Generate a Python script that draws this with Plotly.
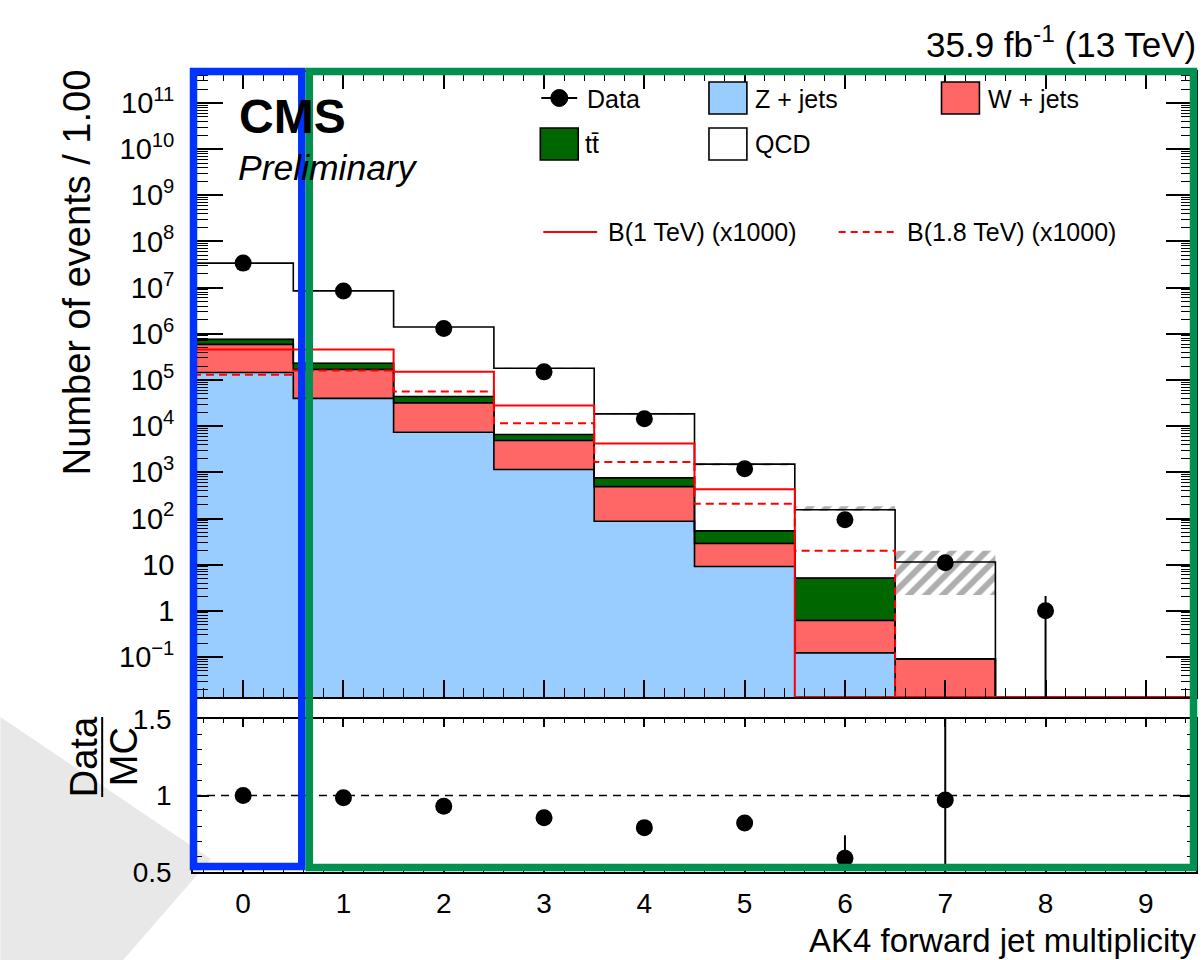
import numpy as np
import plotly.graph_objects as go

# ---------------- data ----------------
bins = [0, 1, 2, 3, 4, 5, 6, 7, 8, 9]
bin_edges = [-0.5, 0.5, 1.5, 2.5, 3.5, 4.5, 5.5, 6.5, 7.5, 8.5, 9.5]
x_tick_labels = ["0", "1", "2", "3", "4", "5", "6", "7", "8", "9"]

z_jets = [1.45e5, 4.0e4, 7.4e3, 1.15e3, 87, 9.1, 0.123, 0, 0, 0]
w_jets = [4.45e5, 1.3e5, 2.46e4, 3.75e3, 403, 19.9, 0.50, 0.091, 0, 0]
ttbar = [1.7e5, 6.0e4, 1.2e4, 1.7e3, 270, 25, 4.5, 0, 0, 0]
qcd = [3.32e7, 8.27e6, 1.36e6, 1.73e5, 1.77e4, 1.45e3, 150, 11.3, 0, 0]

data = [3.4e7, 8.5e6, 1.3e6, 1.5e5, 1.45e4, 1.2e3, 94, 11, 1, None]
data_err_up = [5.8e3, 2.9e3, 1.1e3, 390, 120, 35, 10, 3.4, 1.1, 0]
data_err_dn = [5.8e3, 2.9e3, 1.1e3, 390, 120, 35, 9.7, 3.3, 1.0, 0]

sig_1tev = [4.6e5, 4.6e5, 1.5e5, 2.8e4, 4.2e3, 4.3e2, 0, 0, 0, 0]
sig_18tev = [1.3e5, 1.6e5, 5.6e4, 1.15e4, 1.67e3, 2.1e2, 20, 0, 0, 0]

unc_lo = [None, None, None, 1.76e5, 1.80e4, 1.40e3, 145, 2.2, None, None]
unc_hi = [None, None, None, 1.84e5, 1.90e4, 1.60e3, 185, 20, None, None]

ratio = [1.0, 0.985, 0.93, 0.855, 0.79, 0.82, 0.59, 0.97, None, None]
ratio_err_up = [0.004, 0.004, 0.005, 0.006, 0.01, 0.03, 0.15, 1.0, 0, 0]
ratio_err_dn = [0.004, 0.004, 0.005, 0.006, 0.01, 0.03, 0.40, 1.0, 0, 0]

y_tick_exps = [-1, 0, 1, 2, 3, 4, 5, 6, 7, 8, 9, 10, 11]

# ---------------- geometry / style ----------------
FIG_W, FIG_H = 1203, 960
L, R, T, B = 193, 1198, 72, 872
PW, PH = R - L, B - T
YMIN, YMAX = -1.866, 11.671
BOT = 10 ** YMIN
FONT = "Liberation Sans, Arial, Helvetica, sans-serif"

C_Z = "#99ccff"
C_W = "#ff6666"
C_TT = "#006600"
C_BLUEBOX = "#0033ff"
C_GREENBOX = "#00904f"


def xp(px):
    return (px - L) / PW


def yp(py):
    return (B - py) / PH


def clean(v):
    return [BOT if (a is None or a <= 0) else a for a in v]


def step_y(v):
    c = clean(v)
    return c + [c[-1]]


z = np.array(z_jets, float)
c1 = z
c2 = c1 + np.array(w_jets, float)
c3 = c2 + np.array(ttbar, float)
c4 = c3 + np.array(qcd, float)

fig = go.Figure()

# stacked fills (drawn as overlaid cumulative bars)
for cum, col in [(c4, "#ffffff"), (c3, C_TT), (c2, C_W), (c1, C_Z)]:
    fig.add_trace(go.Bar(x=bins, y=list(cum), base=BOT * 0.01, width=1.0,
                         marker=dict(color=col, line=dict(width=1, color=col)),
                         xaxis="x", yaxis="y", showlegend=False, hoverinfo="skip"))

# black outlines of every stack component
for cum in [c1, c2, c3, c4]:
    fig.add_trace(go.Scatter(x=bin_edges, y=step_y(list(cum)), mode="lines",
                             line=dict(color="black", width=1.6, shape="hv"),
                             xaxis="x", yaxis="y", showlegend=False, hoverinfo="skip"))

# uncertainty hatch
h_base = [lo if lo is not None else None for lo in unc_lo]
h_len = [(hi - lo) if (hi is not None and lo is not None) else None
         for lo, hi in zip(unc_lo, unc_hi)]
fig.add_trace(go.Bar(x=bins, y=h_len, base=h_base, width=1.0,
                     marker=dict(color="rgba(0,0,0,0)", line=dict(width=0),
                                 pattern=dict(shape="/", fgcolor="#5e5e5e", size=12,
                                              solidity=0.5, fillmode="overlay")),
                     xaxis="x", yaxis="y", showlegend=False, hoverinfo="skip"))

# signals
fig.add_trace(go.Scatter(x=bin_edges, y=step_y(sig_1tev), mode="lines",
                         line=dict(color="#ff0000", width=2, shape="hv"),
                         xaxis="x", yaxis="y", name="B(1 TeV) (x1000)", showlegend=False))
fig.add_trace(go.Scatter(x=bin_edges, y=step_y(sig_18tev), mode="lines",
                         line=dict(color="#ff0000", width=2, shape="hv", dash="8px,5px"),
                         xaxis="x", yaxis="y", name="B(1.8 TeV) (x1000)", showlegend=False))

# data
d_up = [e if d is not None else 0 for d, e in zip(data, data_err_up)]
d_dn = [min(e, d - BOT) if d is not None else 0 for d, e in zip(data, data_err_dn)]
fig.add_trace(go.Scatter(x=bins, y=data, mode="markers",
                         marker=dict(color="black", size=17, symbol="circle"),
                         error_y=dict(type="data", array=d_up, arrayminus=d_dn,
                                      color="black", thickness=2, width=0),
                         xaxis="x", yaxis="y", name="Data", showlegend=False))

# ratio
r_up = [min(r + e, 1.5) - r if r is not None else 0 for r, e in zip(ratio, ratio_err_up)]
r_dn = [r - max(r - e, 0.5) if r is not None else 0 for r, e in zip(ratio, ratio_err_dn)]
fig.add_trace(go.Scatter(x=bins, y=ratio, mode="markers",
                         marker=dict(color="black", size=17, symbol="circle"),
                         error_y=dict(type="data", array=r_up, arrayminus=r_dn,
                                      color="black", thickness=2, width=0),
                         xaxis="x2", yaxis="y2", showlegend=False, hoverinfo="skip"))

y_tickvals = [10.0 ** e for e in y_tick_exps]
y_ticktext = []
for e in y_tick_exps:
    if e == 0:
        y_ticktext.append("1")
    elif e == 1:
        y_ticktext.append("10")
    elif e < 0:
        y_ticktext.append("10<sup>\u2212%d</sup>" % (-e))
    else:
        y_ticktext.append("10<sup>%d</sup>" % e)
y_minor = [k * 10.0 ** d for d in range(-2, 12) for k in range(2, 10)]

axis_common = dict(showline=True, linecolor="black", linewidth=1.6, showgrid=False,
                   zeroline=False, ticks="inside", tickcolor="black", tickwidth=1.5,
                   mirror="ticks")

fig.update_layout(
    width=FIG_W, height=FIG_H,
    margin=dict(l=L, r=FIG_W - R, t=T, b=FIG_H - B, pad=0),
    paper_bgcolor="white", plot_bgcolor="white",
    font=dict(family=FONT, color="black", size=28),
    barmode="overlay", showlegend=False,
    xaxis=dict(axis_common, domain=[0, 1], range=[-0.5, 9.5], anchor="y",
               tickmode="array", tickvals=bins, ticklen=17, showticklabels=False,
               minor=dict(tickmode="linear", tick0=0, dtick=0.2, ticks="inside",
                          ticklen=9, tickcolor="black", tickwidth=1.2)),
    yaxis=dict(axis_common, domain=[yp(697), 1.0], type="log", range=[YMIN, YMAX],
               anchor="x", tickmode="array", tickvals=y_tickvals, ticktext=y_ticktext,
               ticklen=30, tickfont=dict(size=29), ticklabelstandoff=11,
               minor=dict(tickmode="array", tickvals=y_minor, ticks="inside",
                          ticklen=15, tickcolor="black", tickwidth=1.2)),
    xaxis2=dict(axis_common, domain=[0, 1], range=[-0.5, 9.5], anchor="y2",
                tickmode="array", tickvals=bins, ticktext=x_tick_labels, ticklen=8,
                tickfont=dict(size=28), ticklabelstandoff=6,
                minor=dict(tickmode="linear", tick0=0, dtick=0.2, ticks="inside",
                           ticklen=4, tickcolor="black", tickwidth=1.2)),
    yaxis2=dict(axis_common, domain=[0, yp(719)], range=[0.5, 1.5], anchor="x2",
                tickmode="array", tickvals=[0.5, 1.0, 1.5], ticktext=["0.5", "1", "1.5"],
                ticklen=16, tickfont=dict(size=28), ticklabelstandoff=14,
                minor=dict(tickmode="linear", tick0=0.5, dtick=0.1, ticks="inside",
                           ticklen=9, tickcolor="black", tickwidth=1.2)),
)

shapes = []
# background grey triangle (bottom-left)
tri = [(0, 717), (211, 859), (123, 960), (0, 960)]
path = "M " + " L ".join("%f,%f" % (xp(a), yp(b)) for a, b in tri) + " Z"
shapes.append(dict(type="path", xref="paper", yref="paper", path=path,
                   fillcolor="#e8e8e8", line=dict(width=0), layer="below"))
# ratio reference line at 1
shapes.append(dict(type="line", xref="x2", yref="y2", x0=-0.5, x1=9.5, y0=1, y1=1,
                   line=dict(color="black", width=1.5, dash="8px,6px")))
# Data/MC fraction bar
shapes.append(dict(type="line", xref="paper", yref="paper", x0=xp(102), x1=xp(102),
                   y0=yp(717), y1=yp(797), line=dict(color="black", width=2)))

# manual legend
def box(x0, x1, y0, y1, col):
    shapes.append(dict(type="rect", xref="paper", yref="paper",
                       x0=xp(x0), x1=xp(x1), y0=yp(y1), y1=yp(y0),
                       fillcolor=col, line=dict(color="black", width=1.6)))

box(710, 748, 82, 114, C_Z)
box(943, 981, 82, 114, C_W)
box(541, 579, 128, 160, C_TT)
box(710, 748, 128, 160, "#ffffff")
shapes.append(dict(type="line", xref="paper", yref="paper", x0=xp(542), x1=xp(578),
                   y0=yp(98), y1=yp(98), line=dict(color="black", width=2)))
shapes.append(dict(type="circle", xref="paper", yref="paper", x0=xp(551.5), x1=xp(568.5),
                   y0=yp(106.5), y1=yp(89.5), fillcolor="black", line=dict(color="black", width=1)))
shapes.append(dict(type="line", xref="paper", yref="paper", x0=xp(544), x1=xp(598),
                   y0=yp(232), y1=yp(232), line=dict(color="#ff0000", width=2)))
shapes.append(dict(type="line", xref="paper", yref="paper", x0=xp(840), x1=xp(897),
                   y0=yp(232), y1=yp(232), line=dict(color="#ff0000", width=2, dash="7px,5px")))

# highlight frames
shapes.append(dict(type="rect", xref="paper", yref="paper", x0=xp(193.5), x1=xp(302),
                   y0=yp(866.5), y1=yp(71.5), line=dict(color=C_BLUEBOX, width=7.5)))
shapes.append(dict(type="rect", xref="paper", yref="paper", x0=xp(309.5), x1=xp(1195.5),
                   y0=yp(867.5), y1=yp(71.5), line=dict(color=C_GREENBOX, width=7.5)))
fig.update_layout(shapes=shapes)

ann = []


def text(x, y, s, size, xanchor="left", yanchor="middle", angle=0, **kw):
    ann.append(dict(xref="paper", yref="paper", x=xp(x), y=yp(y), text=s, showarrow=False,
                    xanchor=xanchor, yanchor=yanchor, textangle=angle,
                    font=dict(family=FONT, size=size, color="black", **kw)))


# legend texts
text(586, 99, "Data", 25)
text(754, 99, "Z + jets", 25)
text(988, 99, "W + jets", 25)
text(584, 144, "tt\u0304", 25)
text(754, 144, "QCD", 25)
text(607, 232, "B(1 TeV) (x1000)", 25)
text(906, 232, "B(1.8 TeV) (x1000)", 25)

text(237, 116, "<b>CMS</b>", 48)
text(236, 168, "<i>Preliminary</i>", 35.5)
text(1200, 42, "35.9 fb<sup>-1</sup> (13 TeV)", 35, xanchor="right")
text(77, 272, "Number of events / 1.00", 38, xanchor="center", angle=-90)
text(1200, 940, "AK4 forward jet multiplicity", 33, xanchor="right")
text(84, 757, "Data", 38, xanchor="center", angle=-90)
text(124, 757, "MC", 38, xanchor="center", angle=-90)
fig.update_layout(annotations=ann)

fig.write_html("out.html", config={"displayModeBar": False},
               post_script="document.body.style.margin='0px';")
